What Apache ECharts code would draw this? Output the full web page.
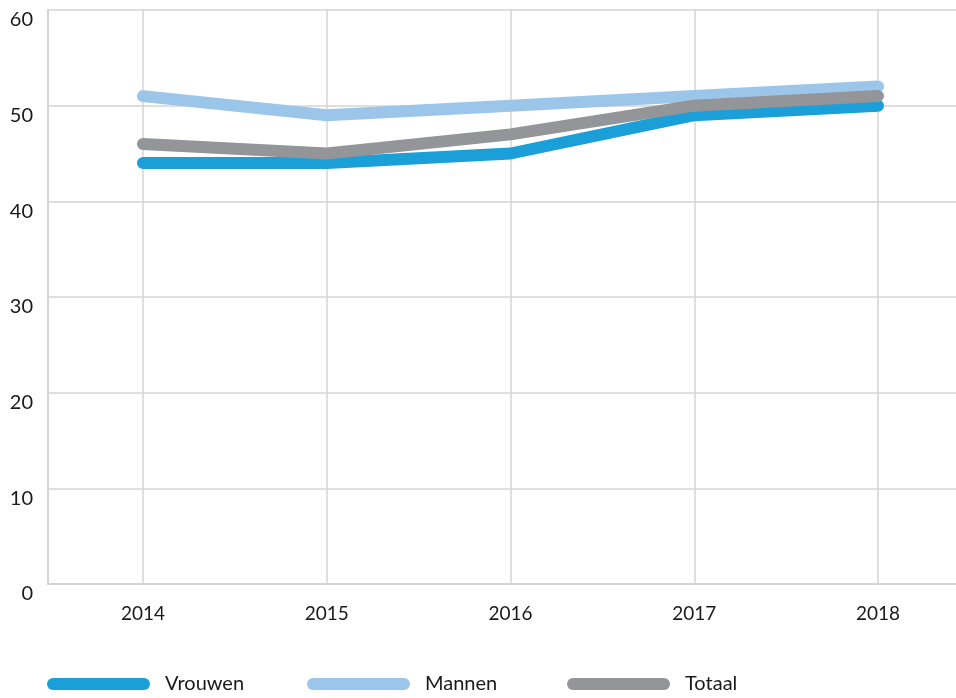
<!DOCTYPE html>
<html>
<head>
<meta charset="utf-8">
<script src="https://cdn.jsdelivr.net/npm/echarts@6/dist/echarts.min.js"></script>
<style>
  html, body { margin: 0; padding: 0; background: #ffffff; }
  #chart { width: 956px; height: 698px; }
</style>
</head>
<body>
<div id="chart"></div>
<script>
// Years on the horizontal axis
const years = ['2014', '2015', '2016', '2017', '2018'];

// Series values per year
const vrouwen = [44, 44, 45, 49, 50];
const mannen  = [51, 49, 50, 51, 52];
const totaal  = [46, 45, 47, 50, 51];

// Vertical scale
const yMin = 0;
const yMax = 60;
const yStep = 10;

const FONT = 'Lato';
const GRID_COLOR = '#d4d4d4';
const pill = 'path://M6,0 L97,0 A6,6 0 0 1 97,12 L6,12 A6,6 0 0 1 6,0 Z';

const chart = echarts.init(document.getElementById('chart'), null, { renderer: 'canvas' });

function lineSeries(name, data, color) {
  return {
    name: name,
    type: 'line',
    xAxisIndex: 0,
    yAxisIndex: 0,
    data: data,
    symbol: 'none',
    smooth: false,
    z: 5,
    itemStyle: { color: color },
    lineStyle: { color: color, width: 12, cap: 'round', join: 'round' }
  };
}

function legendAt(left, name) {
  return {
    data: [name],
    left: left,
    top: 669,
    icon: pill,
    itemWidth: 103,
    itemHeight: 12,
    itemGap: 0,
    selectedMode: false,
    textStyle: { fontFamily: FONT, fontSize: 20, color: '#1a1a1a', padding: [0, 0, 0, 10] }
  };
}

chart.setOption({
  animation: false,
  backgroundColor: '#ffffff',
  grid: [
    // plotting area, spanning the first to the last year
    { left: 143, width: 735, top: 10, bottom: 114 },
    // full background frame with horizontal rules
    { left: 48, right: 0, top: 10, bottom: 114 }
  ],
  legend: [
    legendAt(42, 'Vrouwen'),
    legendAt(302, 'Mannen'),
    legendAt(562, 'Totaal')
  ],
  xAxis: [
    {
      type: 'category',
      gridIndex: 0,
      data: years,
      boundaryGap: false,
      axisLine: { show: false },
      axisTick: { show: false },
      axisLabel: { fontFamily: FONT, fontSize: 19, color: '#1a1a1a', margin: 20 },
      splitLine: { show: true, lineStyle: { color: GRID_COLOR, width: 1.5 } }
    },
    {
      type: 'value',
      gridIndex: 1,
      min: 0,
      max: 1,
      axisLine: { show: true, onZero: false, lineStyle: { color: GRID_COLOR, width: 2 } },
      axisTick: { show: false },
      axisLabel: { show: false },
      splitLine: { show: false }
    }
  ],
  yAxis: [
    {
      type: 'value',
      gridIndex: 0,
      min: yMin,
      max: yMax,
      interval: yStep,
      show: false,
      splitLine: { show: false }
    },
    {
      type: 'value',
      gridIndex: 1,
      min: yMin,
      max: yMax,
      interval: yStep,
      axisLine: { show: true, lineStyle: { color: GRID_COLOR, width: 2 } },
      axisTick: { show: false },
      axisLabel: {
        fontFamily: FONT, fontSize: 20, color: '#1a1a1a', margin: 15,
        verticalAlign: 'top'
      },
      splitLine: { show: true, lineStyle: { color: GRID_COLOR, width: 1.5 } }
    }
  ],
  series: [
    lineSeries('Vrouwen', vrouwen, '#1a9fd8'),
    lineSeries('Mannen', mannen, '#9cc6e9'),
    lineSeries('Totaal', totaal, '#939598')
  ]
});
</script>
</body>
</html>
